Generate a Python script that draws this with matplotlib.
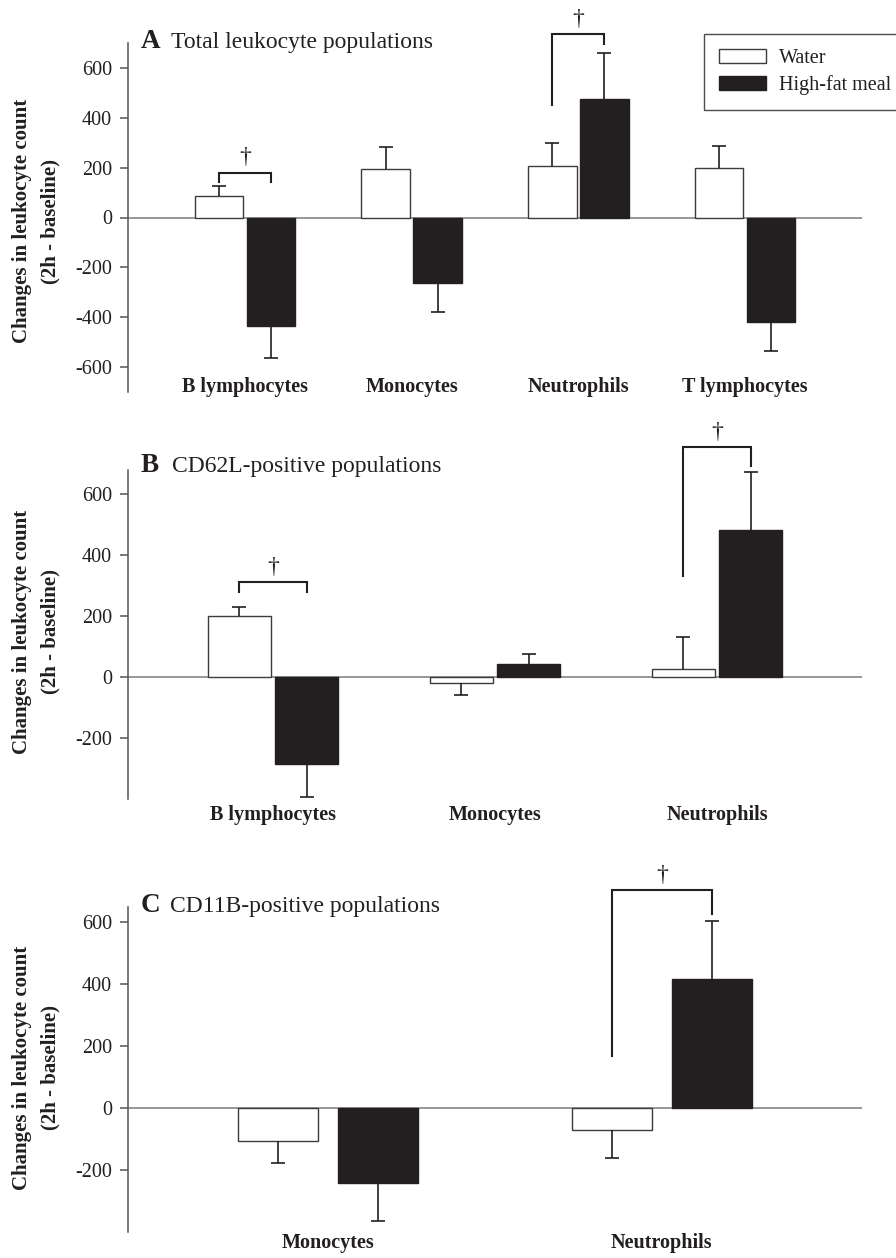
import matplotlib
matplotlib.use("Agg")
import matplotlib.pyplot as plt
import matplotlib.transforms as mtransforms
from matplotlib.patches import Patch
import numpy as np

plt.rcParams['font.family'] = ['Liberation Serif', 'DejaVu Serif']

# ---------------- data ----------------
a_categories = ["B lymphocytes", "Monocytes", "Neutrophils", "T lymphocytes"]
a_water = [88, 196, 208, 200]
a_water_err = [40, 88, 92, 88]
a_hf = [-436, -264, 476, -420]
a_hf_err = [128, 116, 184, 116]

b_categories = ["B lymphocytes", "Monocytes", "Neutrophils"]
b_water = [202, -20, 28]
b_water_err = [28, 39, 103]
b_hf = [-285, 43, 482]
b_hf_err = [108, 32, 190]

c_categories = ["Monocytes", "Neutrophils"]
c_water = [-107, -71]
c_water_err = [71, 91]
c_hf = [-243, 418]
c_hf_err = [123, 188]

a_yticks = [-600, -400, -200, 0, 200, 400, 600]
bc_yticks = [-200, 0, 200, 400, 600]

# significance brackets: (group index, top, left leg end, right leg end)
a_brackets = [(0, 180, 144, 144), (2, 736, 452, 696)]
b_brackets = [(0, 311, 279, 279), (2, 754, 331, 692)]
c_brackets = [(1, 704, 169, 629)]

series_labels = ["Water", "High-fat meal"]

# ---------------- style ----------------
W, H = 896, 1258
DARK = '#231f20'
EDGE = '#3c3c3c'
AXCOL = '#555555'
ZEROCOL = '#7a7a7a'

fig = plt.figure(figsize=(W / 100, H / 100), dpi=100)


def fy(px):
    return 1 - px / H


def panel(rect, cats, water, water_err, hf, hf_err, xlim, ylim, yticks,
          off, width, brackets, label_y, letter, title, title_base, title_x,
          ylab_center):
    ax = fig.add_axes(rect)
    x = np.arange(len(cats))
    water = np.array(water, float)
    hf = np.array(hf, float)
    werr = np.array(water_err, float)
    herr = np.array(hf_err, float)

    ax.axhline(0, color=ZEROCOL, lw=1.1, zorder=1)
    ax.bar(x - off, water, width, color='white', edgecolor=EDGE, lw=1.0, zorder=2)
    ax.bar(x + off, hf, width, color=DARK, edgecolor=DARK, lw=1.0, zorder=2)

    for xs, v, e in ((x - off, water, werr), (x + off, hf, herr)):
        tip = v + np.sign(v) * e
        ax.vlines(xs, v, tip, color=DARK, lw=1.2, zorder=3)
        ax.plot(xs, tip, ls='none', marker='_', markersize=9.5, mew=1.2,
                color=DARK, zorder=3)

    for gi, top, lft, rgt in brackets:
        xl, xr = gi - off, gi + off
        ax.plot([xl, xl, xr, xr], [lft, top, top, rgt], color=DARK, lw=1.5,
                clip_on=False, zorder=4, solid_joinstyle='miter')
        ax.annotate('\u2020', xy=(gi, top), xytext=(0, 3),
                    textcoords='offset points', ha='center', va='bottom',
                    fontsize=17, color=DARK, annotation_clip=False)

    ax.set_xlim(*xlim)
    ax.set_ylim(*ylim)
    ax.set_yticks(yticks)
    ax.set_yticklabels([str(t) for t in yticks])
    ax.set_xticks([])
    for s in ('top', 'right', 'bottom'):
        ax.spines[s].set_visible(False)
    ax.spines['left'].set_color(AXCOL)
    ax.spines['left'].set_linewidth(1.1)
    ax.tick_params(axis='y', length=5.5, width=1.1, color=AXCOL, pad=6,
                   labelsize=14.5, labelcolor=DARK)

    tr = mtransforms.blended_transform_factory(ax.transData, fig.transFigure)
    for xi, c in zip(x, cats):
        ax.text(xi, fy(label_y), c, transform=tr, ha='center', va='center',
                fontsize=14.5, fontweight='bold', color=DARK, clip_on=False)

    fig.text(141 / W, fy(title_base), letter, fontsize=19.5, fontweight='bold',
             color=DARK, va='baseline', ha='left')
    fig.text(title_x / W, fy(title_base), title, fontsize=17, color=DARK,
             va='baseline', ha='left')
    fig.text(36 / W, fy(ylab_center),
             "Changes in leukocyte count\n(2h - baseline)", rotation=90,
             ha='center', va='center', fontsize=15, fontweight='bold',
             linespacing=1.6, color=DARK, multialignment='center')
    return ax


left = 128 / W
wid = (862 - 128) / W

axA = panel([left, fy(392), wid, (392 - 43) / H], a_categories, a_water,
            a_water_err, a_hf, a_hf_err, (-0.7, 3.7), (-700, 700), a_yticks,
            0.156, 0.29, a_brackets, 387, 'A', 'Total leukocyte populations',
            48, 171, 221)

axB = panel([left, fy(799), wid, (799 - 470) / H], b_categories, b_water,
            b_water_err, b_hf, b_hf_err, (-0.653, 2.653), (-400, 680),
            bc_yticks, 0.151, 0.285, b_brackets, 815, 'B',
            'CD62L-positive populations', 472, 172, 632)

axC = panel([left, fy(1232), wid, (1232 - 907) / H], c_categories, c_water,
            c_water_err, c_hf, c_hf_err, (-0.6, 1.6), (-400, 650),
            bc_yticks, 0.15, 0.24, c_brackets, 1243, 'C',
            'CD11B-positive populations', 912, 170, 1068)

handles = [Patch(facecolor='white', edgecolor=EDGE, lw=1.0),
           Patch(facecolor=DARK, edgecolor=DARK, lw=1.0)]
leg = fig.legend(handles, series_labels, loc='upper left',
                 bbox_to_anchor=(704 / W, fy(34)), frameon=True, fancybox=False,
                 edgecolor=DARK, fontsize=14.5, handlelength=2.35,
                 handleheight=0.65, handletextpad=0.6, labelspacing=0.35,
                 borderpad=0.75, borderaxespad=0)
leg.get_frame().set_linewidth(1.0)
for t in leg.get_texts():
    t.set_color(DARK)

fig.savefig('out.png', dpi=100)
